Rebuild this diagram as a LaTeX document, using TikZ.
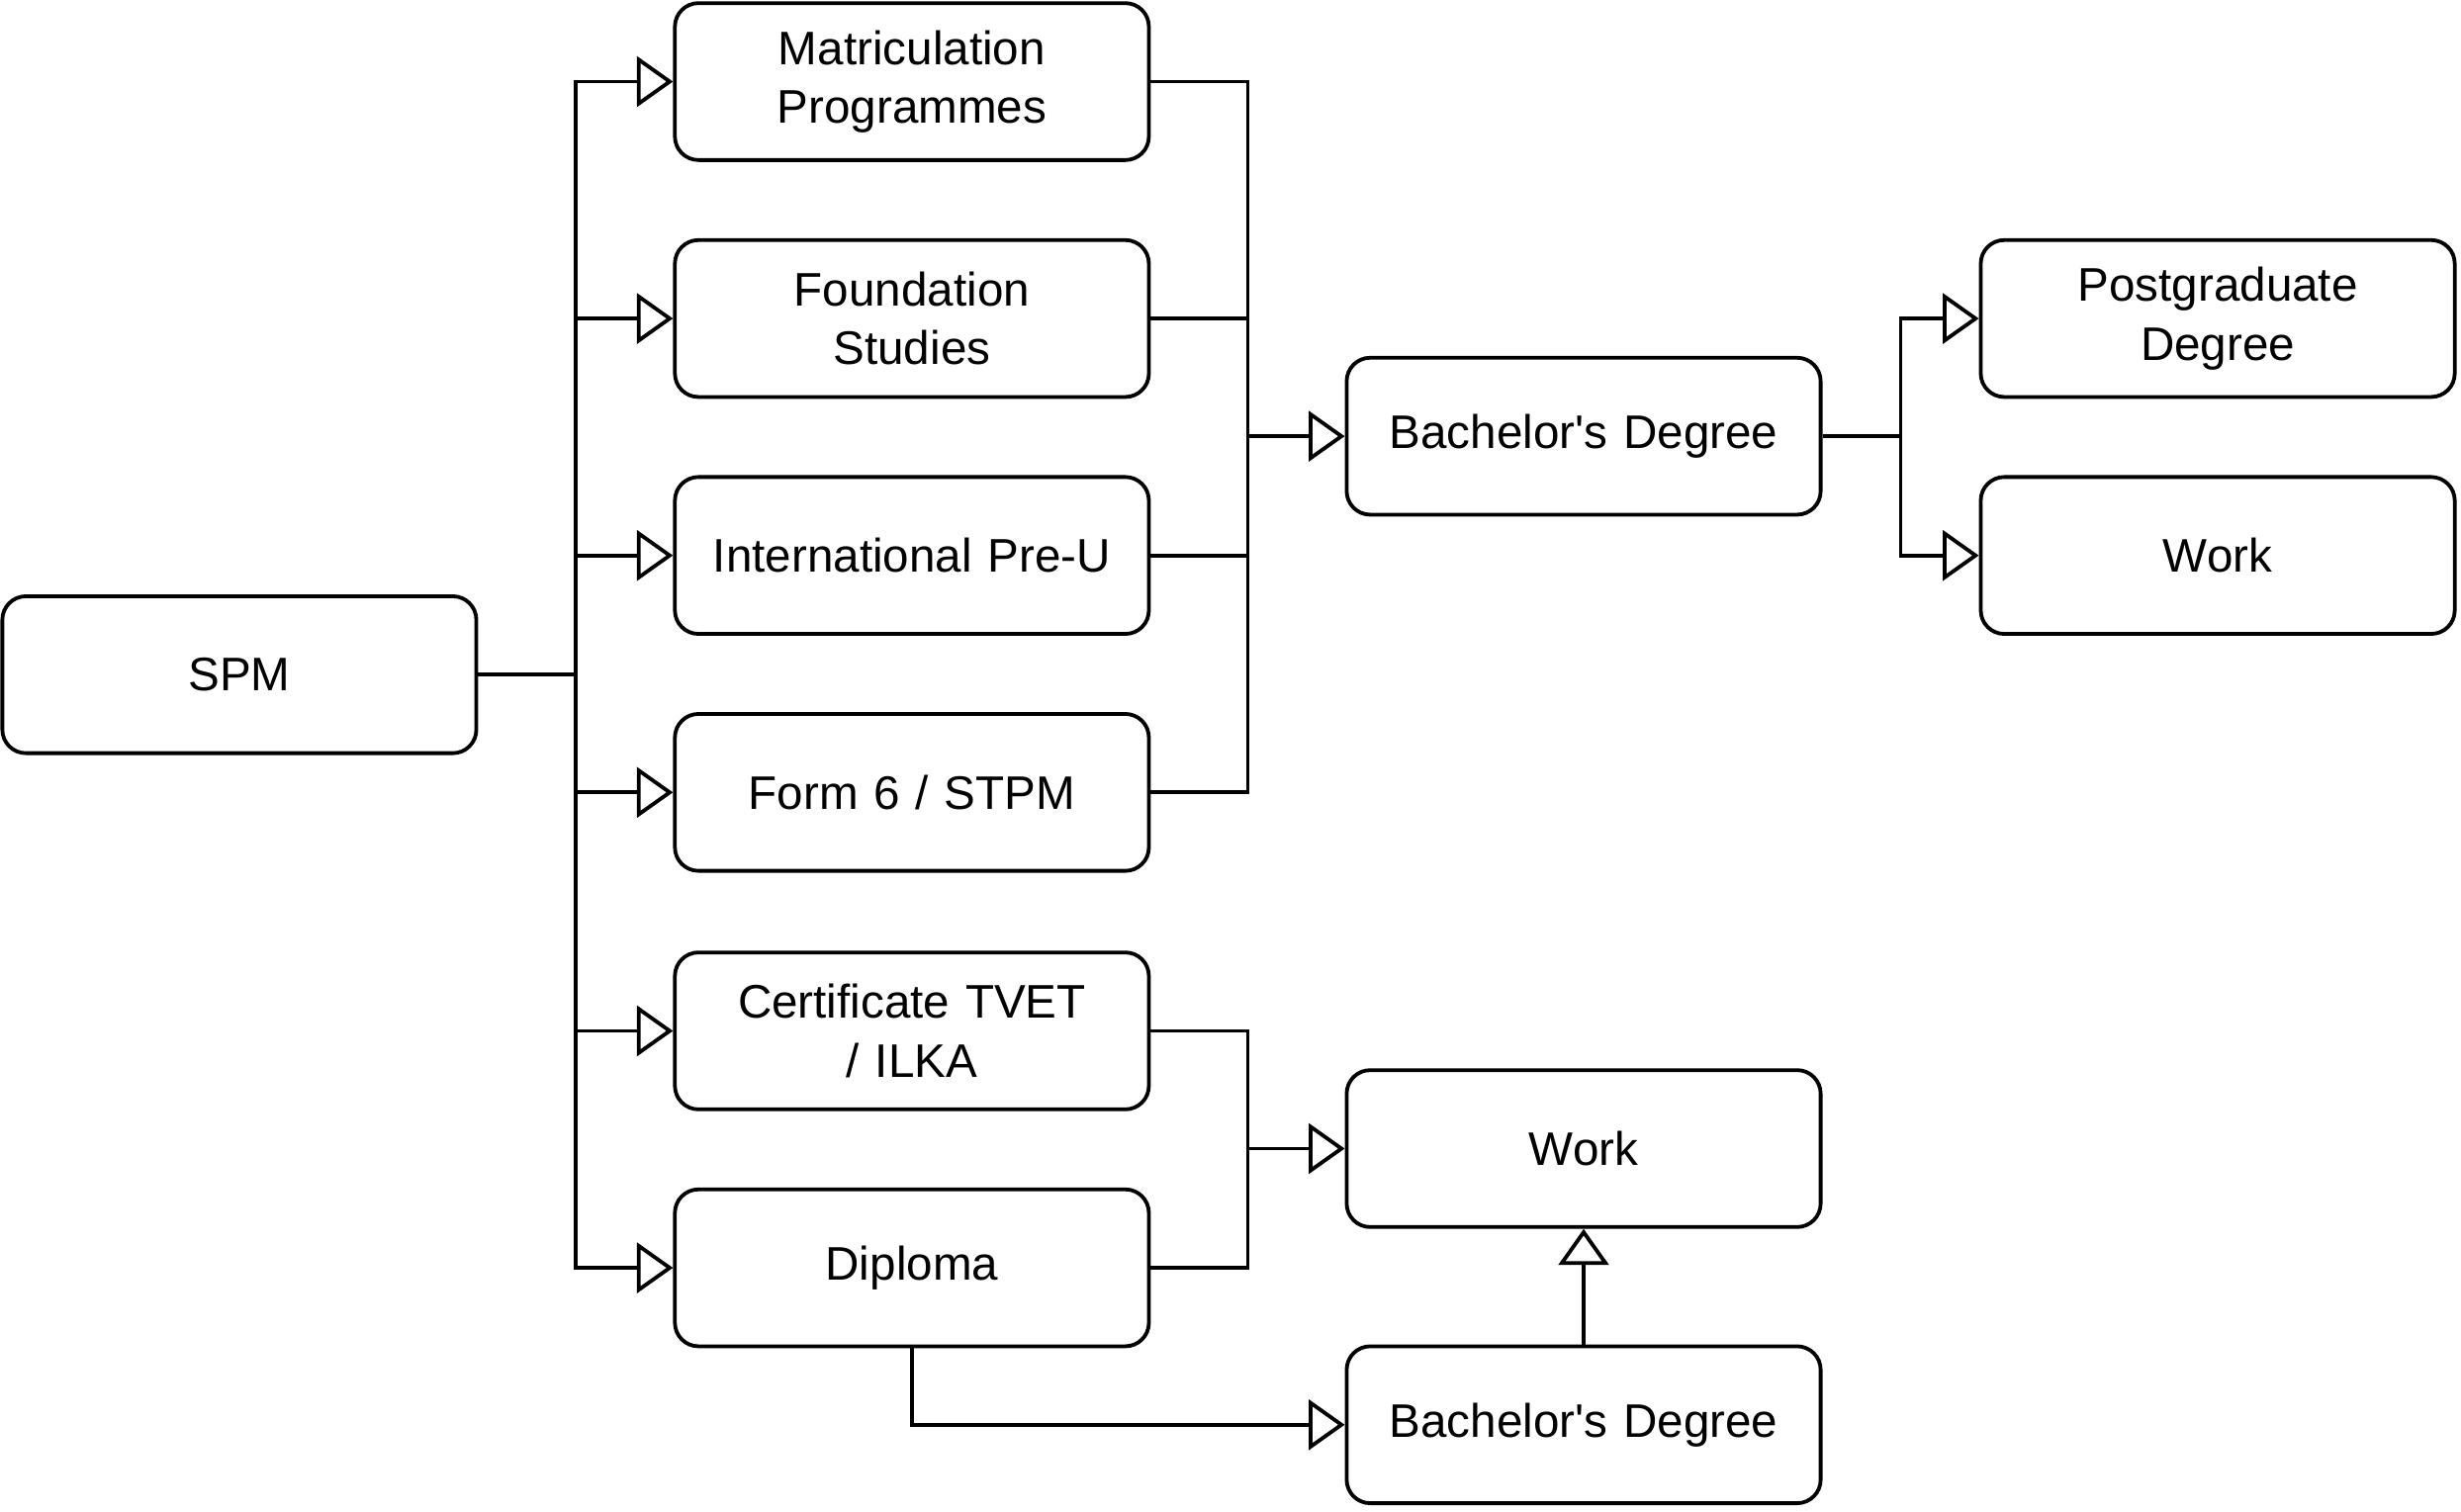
\documentclass[tikz,border=0pt]{standalone}
\usepackage{fontspec}
\setmainfont{Liberation Sans}[Ligatures=TeXOff]
\usetikzlibrary{arrows.meta}
\begin{document}
\begin{tikzpicture}[x=1pt,y=-1pt,
  box/.style={draw,line width=2.4pt,rounded corners=15pt,minimum width=302pt,minimum height=100pt,
    inner sep=0pt,align=center,text width=290pt,font=\fontsize{30}{37.5}\selectfont},
  ln/.style={line width=2.4pt},
  arr/.style={ln,-{Triangle[open,length=23pt,width=32pt,line width=2.4pt]}}]
\useasboundingbox (0,0) rectangle (1568,963);
\node[box] (spm) at (152.5,430) {SPM};
\node[box] (mat) at (581,52) {Matriculation\\Programmes};
\node[box] (fs) at (581,203) {Foundation\\Studies};
\node[box] (ipu) at (581,354) {International Pre-U};
\node[box] (f6) at (581,505) {Form 6 / STPM};
\node[box] (cert) at (581,657) {Certificate TVET\\/ ILKA};
\node[box] (dip) at (581,808) {Diploma};
\node[box] (bach1) at (1009,278) {Bachelor's Degree};
\node[box] (pg) at (1413,203) {Postgraduate\\Degree};
\node[box] (work1) at (1413,354) {Work};
\node[box] (work2) at (1009,732) {Work};
\node[box] (bach2) at (1009,908) {Bachelor's Degree};
\coordinate (t) at (367,430);
\coordinate (m1) at (795,278);
\coordinate (s1) at (1211,278);
\coordinate (m2) at (795,732);
\draw[ln] (spm.east) -- (t);
\foreach \b in {mat,fs,ipu,f6,cert,dip} \draw[arr] (t) |- (\b.west);
\foreach \b in {mat,fs,ipu,f6} \draw[ln] (\b.east) -| (m1);
\draw[arr] (m1) -- (bach1.west);
\draw[ln] (bach1.east) -- (s1);
\draw[arr] (s1) |- (pg.west);
\draw[arr] (s1) |- (work1.west);
\foreach \b in {cert,dip} \draw[ln] (\b.east) -| (m2);
\draw[arr] (m2) -- (work2.west);
\draw[arr] (dip.south) |- (bach2.west);
\draw[arr] (bach2.north) -- (work2.south);
\end{tikzpicture}
\end{document}
